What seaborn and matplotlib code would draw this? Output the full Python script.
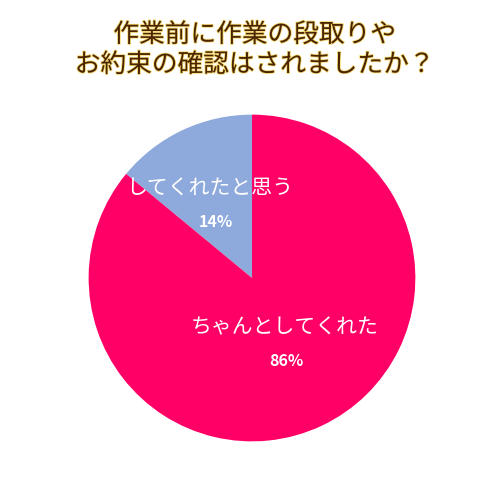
import matplotlib
matplotlib.use('Agg')
import matplotlib.pyplot as plt
import matplotlib.patheffects as pe
import seaborn as sns

LABELS = ['してくれたと思う', 'ちゃんとしてくれた']
VALUES = [14, 86]
COLORS = ['#8EA9DB', '#FF0066']
TITLE = '作業前に作業の段取りや\nお約束の確認はされましたか？'

# label anchors inside each slice (in pie units, radius 1)
LABEL_POS = [(-0.26, 0.55), (0.20, -0.30)]
PCT_POS = [(-0.22, 0.34), (0.21, -0.51)]


def main():
    sns.set_style('white')
    plt.rcParams['font.family'] = ['Noto Sans CJK JP', 'DejaVu Sans']

    fig = plt.figure(figsize=(5, 5), dpi=100)
    ax = fig.add_axes([0.174, 0.114, 0.66, 0.66])
    ax.pie(VALUES, colors=COLORS, startangle=90, counterclock=True,
           wedgeprops={'linewidth': 0})
    ax.set_aspect('equal')
    ax.set_xlim(-1.01, 1.01)
    ax.set_ylim(-1.01, 1.01)

    for lab, v, (lx, ly), (px, py) in zip(LABELS, VALUES, LABEL_POS, PCT_POS):
        ax.text(lx, ly, lab, color='white', fontsize=15, ha='center', va='center')
        ax.text(px, py, f'{v}%', color='white', fontsize=11.5, fontweight='bold',
                ha='center', va='center')

    fig.text(0.51, 0.9, TITLE, color='#4A2400', fontsize=18.5, ha='center', va='center',
             linespacing=1.2,
             path_effects=[pe.withStroke(linewidth=1.2, foreground='#F2D870')])

    fig.savefig('out.png', dpi=100, facecolor='white')


if __name__ == '__main__':
    main()
